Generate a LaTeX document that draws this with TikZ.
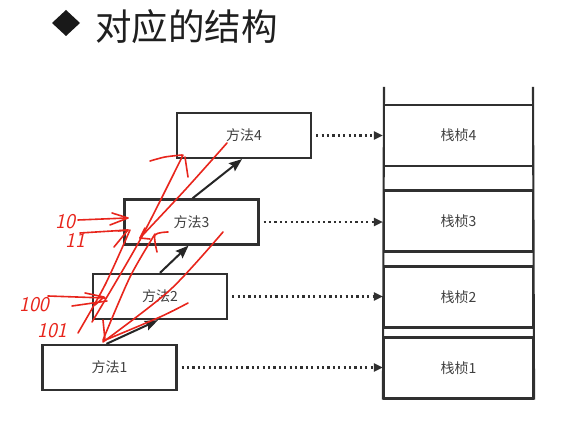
\documentclass[tikz,border=0pt]{standalone}
\usepackage{fontspec}
\setmainfont{Noto Sans CJK SC}
\usetikzlibrary{arrows.meta}
\definecolor{boxline}{HTML}{303030}
\definecolor{labelgray}{HTML}{404040}
\definecolor{pen}{HTML}{E8251C}
\begin{document}
\begin{tikzpicture}[x=1pt,y=-1pt,
  mbox/.style={draw=boxline, line width=2.3pt, minimum width=134pt, minimum height=45pt, inner sep=0pt,
    font=\fontsize{14}{16}\selectfont, text=labelgray},
  fbox/.style={draw=boxline, line width=2.1pt, minimum width=149pt, minimum height=61pt, inner sep=0pt,
    font=\fontsize{14}{16}\selectfont, text=labelgray},
  dotarrow/.style={draw=boxline, line width=2.2pt, dash pattern=on 2.2pt off 3.2pt, shorten <=4pt,
    -{Triangle[length=9pt,width=8pt]}},
  callarrow/.style={draw=black!85, line width=2pt, -{Stealth[length=13pt,width=10pt,inset=2pt]}},
  redpen/.style={draw=pen, line width=1.6pt, line cap=round, line join=round},
  redtext/.style={text=pen, font=\fontsize{21}{22}\sffamily\slshape, inner sep=0pt}]
\useasboundingbox (0,0) rectangle (571,427);
\fill[white] (0,0) rectangle (571,427);
% title
\fill[black!90] (66,10) -- (80,23) -- (66,36) -- (52,23) -- cycle;
\node[anchor=west, inner sep=0pt, font=\fontsize{36.5}{40}\selectfont, text=black!88] (title) at (95,27) {对应的结构};
% methods
\node[mbox] (m4) at (244,135.5) {方法4};
\node[mbox] (m3) at (191.5,222) {方法3};
\node[mbox] (m2) at (160,296.5) {方法2};
\node[mbox] (m1) at (109.5,367.5) {方法1};
% stack frames
\node[fbox] (f4) at (458.5,135.5) {栈桢4};
\node[fbox] (f3) at (458.5,221) {栈桢3};
\node[fbox] (f2) at (458.5,297) {栈桢2};
\node[fbox] (f1) at (458.5,368) {栈桢1};
\coordinate (stl) at (384,87);
\coordinate (str) at (533,87);
\draw[draw=boxline, line width=2.1pt] (stl) -- (f1.south west);
\draw[draw=boxline, line width=2.1pt] (str) -- (f1.south east);
% dotted arrows
\draw[dotarrow] (m4.east) -- (m4.east -| f4.west);
\draw[dotarrow] (m3.east) -- (m3.east -| f3.west);
\draw[dotarrow] (m2.east) -- (m2.east -| f2.west);
\draw[dotarrow] (m1.east) -- (m1.east -| f1.west);
% call arrows
\draw[callarrow] ([xshift=-3pt]m1.north) -- ([xshift=-2pt]m2.south);
\draw[callarrow] (m2.north) -- ([xshift=-3pt]m3.south);
\draw[callarrow] ([xshift=1pt]m3.north) -- ([xshift=-2pt]m4.south);
% red handwriting
\node[redtext] (t10) at (65,222) {10};
\node[redtext] (t11) at (75,240) {11};
\node[redtext] (t100) at (34,305) {100};
\node[redtext] (t101) at (52,331) {101};
\draw[redpen] (78,220) -- (127,218);
\draw[redpen] (112,213) -- (128,218) -- (110,225);
\draw[redpen] (80,233) -- (128,230);
\draw[redpen] (118,231) -- (128,230) -- (114,247);
\draw[redpen] (48,296) -- (105,298);
\draw[redpen] (72,306) -- (107,301);
\draw[redpen] (85,293) -- (104,297) -- (95,305);
\draw[redpen] plot[smooth] coordinates {(78,333) (105,285) (130,230)};
\draw[redpen] plot[smooth] coordinates {(92,322) (140,240) (183,155)};
\draw[redpen] plot[smooth] coordinates {(150,161) (165,157) (182,155)};
\draw[redpen] (185,157) -- (188,177);
\draw[redpen] plot[smooth] coordinates {(227,143) (185,190) (140,238)};
\draw[redpen] (140,238) -- (150,239);
\draw[redpen] (140,238) -- (145,228);
\draw[redpen] plot[smooth] coordinates {(168,232) (155,235) (157,252)};
\draw[redpen] plot[smooth] coordinates {(155,234) (130,277) (103,340)};
\draw[redpen] plot[smooth] coordinates {(223,232) (170,290) (103,342)};
\draw[redpen] plot[smooth] coordinates {(103,341) (160,317) (188,303)};
\draw[redpen] (103,320) -- (105,340);
\end{tikzpicture}
\end{document}
